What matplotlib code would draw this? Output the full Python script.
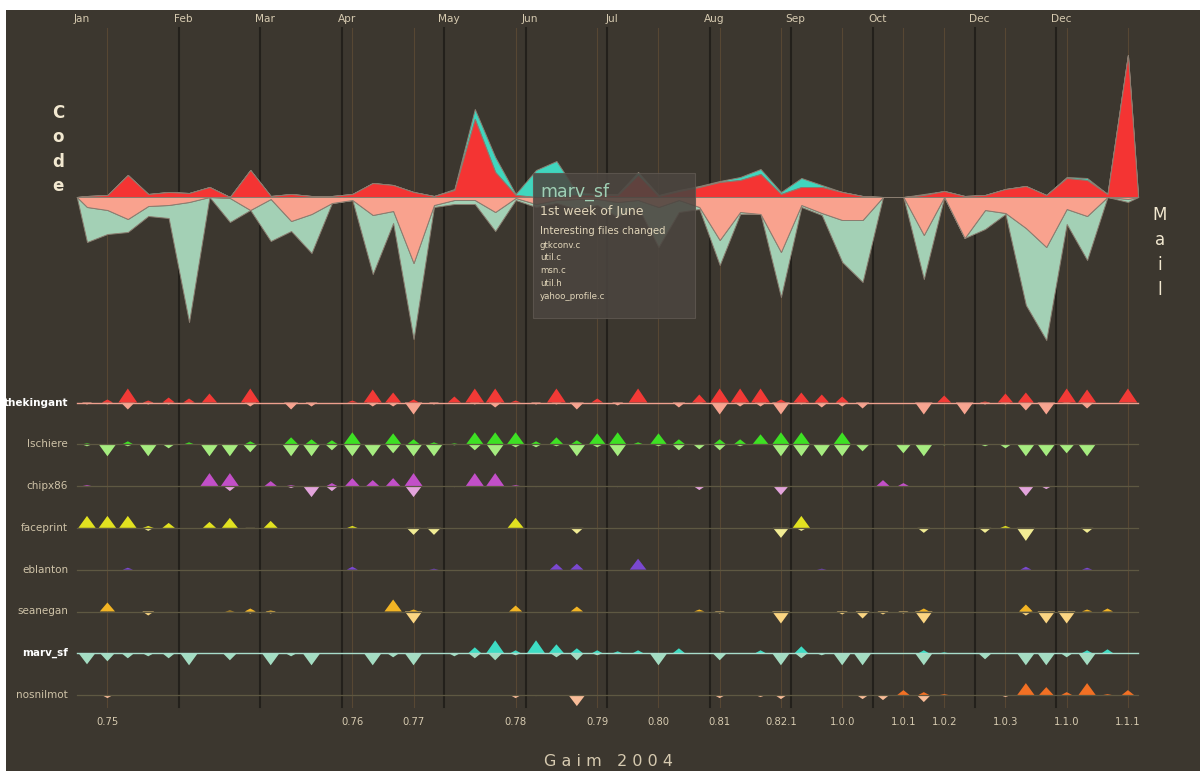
import matplotlib
matplotlib.use("Agg")
from matplotlib import pyplot as plt
from matplotlib.collections import PolyCollection
from matplotlib.patches import Rectangle

# ---- data (weekly, 52 weeks of 2004) ----
weeks = list(range(52))

# top area chart: code (up) and mail (down)
code_others = [1, 2, 22, 3, 5, 4, 10, 0, 27, 1, 3, 1, 1, 3, 14, 12, 5, 1, 7, 78,
               25, 2, 0, 0, 2, 2, 2, 22, 1, 6, 10, 15, 17, 23, 3, 10, 10, 5, 1, 0,
               0, 2, 6, 1, 2, 8, 11, 2, 19, 17, 3, 142]
code_marv_sf = [0, 0, 0, 0, 0, 0, 0, 0, 0, 0, 0, 0, 0, 0, 0, 0, 0, 0, 1, 10,
                15, 1, 27, 36, 3, 1, 1, 3, 1, 1, 1, 1, 3, 5, 2, 9, 2, 0, 0, 0,
                0, 1, 0, 0, 0, 0, 0, 0, 1, 2, 0, 0]
mail_others = [10, 13, 22, 9, 8, 5, 0, 1, 13, 2, 24, 17, 6, 3, 18, 14, 66, 8, 3, 3,
               15, 1, 7, 3, 2, 2, 5, 3, 10, 3, 10, 43, 15, 17, 55, 8, 16, 23, 23, 0,
               0, 38, 0, 41, 13, 16, 31, 50, 12, 19, 0, 2]
mail_marv_sf = [35, 24, 13, 10, 13, 120, 0, 24, 0, 42, 10, 39, 0, 0, 59, 12, 76, 2, 4, 4,
                19, 2, 3, 3, 10, 6, 15, 7, 40, 12, 2, 25, 2, 0, 45, 2, 2, 42, 62, 0,
                0, 44, 0, 0, 19, 1, 77, 93, 15, 44, 0, 3]

# developers: weekly commits (up triangles) and mails (down triangles)
developers = ["thekingant", "lschiere", "chipx86", "faceprint",
              "eblanton", "seanegan", "marv_sf", "nosnilmot"]

thekingant_code = [0, 3, 14, 2, 5, 4, 9, 0, 14, 0, 0, 0, 0, 2, 13, 10, 3, 0, 6, 14,
                   14, 2, 0, 14, 0, 4, 0, 14, 0, 0, 8, 14, 14, 14, 3, 10, 8, 6, 0, 0,
                   0, 0, 7, 0, 1, 9, 10, 0, 14, 13, 0, 14]
thekingant_mail = [2, 2, 7, 2, 2, 1, 0, 0, 4, 0, 7, 4, 0, 0, 4, 4, 12, 2, 0, 2,
                   5, 0, 2, 2, 7, 0, 3, 0, 0, 5, 1, 12, 4, 4, 12, 2, 5, 4, 6, 0,
                   0, 12, 0, 12, 2, 2, 8, 12, 1, 6, 0, 0]
lschiere_code = [1, 0, 3, 0, 0, 2, 0, 0, 3, 0, 7, 5, 4, 12, 0, 11, 5, 2, 1, 12,
                 12, 12, 3, 7, 4, 11, 12, 2, 11, 5, 0, 5, 5, 10, 12, 12, 0, 12, 0, 0,
                 0, 0, 0, 0, 0, 0, 0, 0, 0, 0, 0, 0]
lschiere_mail = [2, 12, 2, 12, 4, 0, 12, 12, 8, 0, 12, 12, 6, 12, 12, 9, 12, 12, 1, 6,
                 12, 3, 3, 2, 12, 3, 12, 0, 2, 6, 5, 6, 2, 0, 12, 12, 12, 12, 7, 0,
                 9, 12, 1, 0, 2, 4, 12, 12, 9, 12, 0, 0]
chipx86_code = [1, 0, 0, 0, 0, 0, 13, 13, 0, 5, 1, 0, 3, 8, 6, 8, 13, 0, 0, 13,
                13, 1, 0, 0, 0, 0, 0, 0, 0, 0, 0, 0, 0, 0, 0, 0, 0, 0, 0, 6,
                3, 0, 0, 0, 0, 0, 0, 0, 0, 0, 0, 0]
chipx86_mail = [0, 0, 0, 0, 0, 0, 0, 5, 0, 1, 2, 11, 5, 0, 0, 0, 11, 0, 1, 0,
                0, 0, 1, 0, 0, 0, 1, 0, 0, 1, 4, 0, 0, 0, 9, 0, 0, 1, 0, 0,
                0, 0, 0, 0, 0, 0, 10, 3, 0, 0, 0, 0]
faceprint_code = [12, 12, 12, 2, 5, 0, 6, 10, 0, 7, 0, 0, 0, 2, 0, 0, 0, 0, 0, 0,
                  0, 10, 0, 0, 0, 0, 0, 0, 0, 0, 0, 0, 0, 0, 0, 12, 0, 0, 0, 0,
                  0, 0, 0, 0, 0, 2, 0, 0, 0, 0, 0, 0]
faceprint_mail = [0, 0, 0, 3, 0, 0, 0, 0, 1, 0, 0, 0, 0, 0, 0, 0, 7, 7, 0, 0,
                  0, 0, 0, 0, 6, 0, 0, 0, 0, 0, 0, 0, 0, 0, 10, 3, 0, 0, 0, 0,
                  0, 5, 0, 0, 5, 0, 13, 0, 0, 5, 0, 0]
eblanton_code = [0, 0, 2, 0, 0, 0, 0, 0, 0, 0, 0, 0, 0, 3, 0, 0, 0, 1, 0, 0,
                 0, 0, 0, 6, 6, 0, 0, 11, 0, 0, 0, 0, 0, 0, 0, 0, 1, 0, 0, 0,
                 0, 0, 0, 0, 0, 0, 3, 0, 0, 2, 0, 0]
eblanton_mail = [0] * 52
seanegan_code = [0, 9, 0, 0, 0, 0, 0, 1, 3, 1, 0, 0, 0, 0, 0, 12, 2, 0, 0, 0,
                 0, 6, 0, 0, 5, 0, 0, 0, 0, 0, 2, 0, 0, 0, 0, 0, 0, 0, 0, 0,
                 0, 3, 0, 0, 0, 0, 7, 0, 0, 2, 3, 0]
seanegan_mail = [0, 0, 0, 4, 0, 0, 0, 0, 2, 2, 0, 0, 0, 0, 0, 0, 12, 0, 0, 0,
                 0, 0, 0, 0, 0, 0, 0, 0, 0, 0, 0, 2, 0, 0, 12, 0, 0, 3, 7, 3,
                 2, 12, 0, 0, 0, 0, 4, 12, 12, 0, 0, 0]
marv_sf_code = [0, 0, 0, 0, 0, 0, 0, 0, 0, 0, 0, 0, 0, 0, 0, 0, 0, 0, 0, 6,
                13, 3, 13, 9, 5, 3, 2, 3, 0, 5, 0, 0, 0, 3, 0, 7, 0, 0, 0, 0,
                0, 3, 1, 0, 0, 0, 0, 0, 0, 3, 4, 0]
marv_sf_mail = [11, 8, 5, 3, 5, 12, 0, 7, 0, 12, 3, 12, 0, 0, 12, 4, 12, 0, 3, 5,
                7, 2, 0, 4, 7, 2, 0, 0, 12, 0, 0, 7, 0, 0, 12, 5, 2, 12, 12, 0,
                0, 12, 0, 0, 6, 0, 12, 12, 4, 12, 0, 0]
nosnilmot_code = [0, 0, 0, 0, 0, 0, 0, 0, 0, 0, 0, 0, 0, 0, 0, 0, 0, 0, 0, 0,
                  0, 0, 0, 0, 0, 0, 0, 0, 0, 0, 0, 0, 0, 0, 0, 0, 0, 0, 0, 0,
                  5, 3, 1, 0, 0, 0, 12, 8, 3, 12, 1, 5]
nosnilmot_mail = [0, 3, 0, 0, 0, 0, 0, 0, 0, 0, 0, 0, 0, 0, 0, 0, 0, 0, 0, 0,
                  0, 3, 1, 0, 11, 0, 0, 0, 0, 0, 0, 3, 0, 2, 4, 0, 0, 0, 4, 5,
                  0, 7, 0, 0, 0, 2, 0, 0, 0, 0, 0, 0]

dev_code = [thekingant_code, lschiere_code, chipx86_code, faceprint_code,
            eblanton_code, seanegan_code, marv_sf_code, nosnilmot_code]
dev_mail = [thekingant_mail, lschiere_mail, chipx86_mail, faceprint_mail,
            eblanton_mail, seanegan_mail, marv_sf_mail, nosnilmot_mail]
up_colors = ["#f23a36", "#3ee024", "#c24fc8", "#e2e220",
             "#7a48d0", "#f2b424", "#3edcc4", "#f27024"]
down_colors = ["#f7a490", "#a6ec80", "#e3a4dc", "#f2ec94",
               "#b9a0e6", "#fbd582", "#a4dcc2", "#f8bc98"]
highlighted = ["thekingant", "marv_sf"]

month_labels = ["Jan", "Feb", "Mar", "Apr", "May", "Jun", "Jul", "Aug",
                "Sep", "Oct", "Dec", "Dec"]
month_starts = [-0.5, 4.5, 8.5, 12.5, 17.5, 21.5, 25.5, 30.5, 34.5, 38.5, 43.5, 47.5]

versions = ["0.75", "0.76", "0.77", "0.78", "0.79", "0.80", "0.81", "0.82.1",
            "1.0.0", "1.0.1", "1.0.2", "1.0.3", "1.1.0", "1.1.1"]
version_weeks = [1, 13, 16, 21, 25, 28, 31, 34, 37, 40, 42, 45, 48, 51]

tip_title = "marv_sf"
tip_week = "1st week of June"
tip_files = ["gtkconv.c", "util.c", "msn.c", "util.h", "yahoo_profile.c"]

# ---- layout (pixels of a 1200x771 canvas, x in weeks) ----
W, H = 1200, 771
X0, DX = 87, 20.41          # pixel of week 0, pixels per week
BASE = 197                  # baseline of the code/mail area
ROW_Y0, ROW_DY = 402.5, 41.8
BG = "#3c372f"
TXT = "#d6cab0"

fig = plt.figure(figsize=(W / 100, H / 100), dpi=100, facecolor="white")
ax = fig.add_axes([0, 0, 1, 1])
ax.set_xlim(-X0 / DX, (W - X0) / DX)
ax.set_ylim(H, 0)
ax.axis("off")
ax.add_patch(Rectangle((6 / W, 0), 1 - 6 / W, (H - 10) / H, transform=ax.transAxes,
                       facecolor=BG, edgecolor="none", zorder=0))

# vertical grid: months (dark) and releases (thin brown)
for m in month_starts[1:]:
    ax.plot([m, m], [28, 707], color="#23201b", lw=1.5, zorder=1)
for v in version_weeks:
    ax.plot([v, v], [28, 707], color="#574733", lw=0.8, zorder=1)
for lab, m in zip(month_labels, month_starts):
    ax.text(m + 0.22, 19, lab, color=TXT, fontsize=7.6, ha="center", va="center")
for lab, v in zip(versions, version_weeks):
    ax.text(v, 722, lab, color=TXT, fontsize=7.2, ha="center", va="center")

# ---- area chart ----
xs = [-0.5] + weeks + [51.5]
pad = lambda s: [0] + list(s) + [0]
c1 = pad(code_others)
c2 = [a + b for a, b in zip(c1, pad(code_marv_sf))]
m1 = pad(mail_others)
m2 = [a + b for a, b in zip(m1, pad(mail_marv_sf))]
edge = "#8a7d70"
ax.fill_between(xs, [BASE - v for v in c2], [BASE - v for v in c1], color="#40d6be",
                edgecolor=edge, lw=0.7, zorder=3)
ax.fill_between(xs, [BASE - v for v in c1], BASE, color="#f43433",
                edgecolor=edge, lw=0.7, zorder=3)
ax.fill_between(xs, [BASE + v for v in m2], [BASE + v for v in m1], color="#a3d0b5",
                edgecolor=edge, lw=0.7, zorder=3)
ax.fill_between(xs, [BASE + v for v in m1], BASE, color="#f9a28e",
                edgecolor=edge, lw=0.7, zorder=3)

for i, ch in enumerate("Code"):
    ax.text(-1.4, 113 + i * 24.3, ch, color="#f2e8d0", fontsize=12, fontweight="bold",
            ha="center", va="center")
for i, ch in enumerate("Mail"):
    ax.text((1160 - X0) / DX, 215 + i * 25, ch, color="#f2e8d0", fontsize=12,
            ha="center", va="center")

# ---- developer rows ----
def tris(values, base, sign):
    polys = []
    for w, h in zip(weeks, values):
        if h <= 0:
            continue
        hw = (4.5 + 0.35 * h) / DX
        polys.append([(w - hw, base), (w + hw, base), (w, base - sign * h)])
    return polys

for i, name in enumerate(developers):
    y = ROW_Y0 + i * ROW_DY
    hi = name in highlighted
    line_col = {"thekingant": "#eea08e", "marv_sf": "#a8dccb"}.get(name, "#5e5842")
    ax.add_collection(PolyCollection(tris(dev_mail[i], y, -1), facecolors=down_colors[i],
                                     edgecolors="none", zorder=4))
    ax.add_collection(PolyCollection(tris(dev_code[i], y, 1), facecolors=up_colors[i],
                                     edgecolors="none", zorder=4))
    ax.plot([-0.5, 51.5], [y, y], color=line_col, lw=1.0 if hi else 0.9, zorder=5)
    ax.text((68 - X0) / DX, y, name, color="white" if hi else "#cfc3a8",
            fontsize=7.5, fontweight="bold" if hi else "normal", ha="right", va="center")

# ---- tooltip ----
tx0, tx1 = (533 - X0) / DX, (695 - X0) / DX
ax.add_patch(Rectangle((tx0, 173), tx1 - tx0, 145, facecolor="#4b4540", alpha=0.88,
                       edgecolor="#5e5750", lw=0.8, zorder=6))
tx = (540 - X0) / DX
ax.text(tx, 192, tip_title, color="#9fcfb4", fontsize=12.5, va="center", zorder=7)
ax.text(tx, 212, tip_week, color="#e2d6ba", fontsize=9, va="center", zorder=7)
ax.text(tx, 231, "Interesting files changed", color="#e2d6ba", fontsize=7.3,
        va="center", zorder=7)
for k, f in enumerate(tip_files):
    ax.text(tx, 245 + k * 12.8, f, color="#e2d6ba", fontsize=6.2, va="center", zorder=7)

ax.text((608 - X0) / DX, 762, "G a i m   2 0 0 4", color=TXT, fontsize=11.5,
        ha="center", va="center")

fig.savefig("out.png", dpi=100, facecolor=fig.get_facecolor())
